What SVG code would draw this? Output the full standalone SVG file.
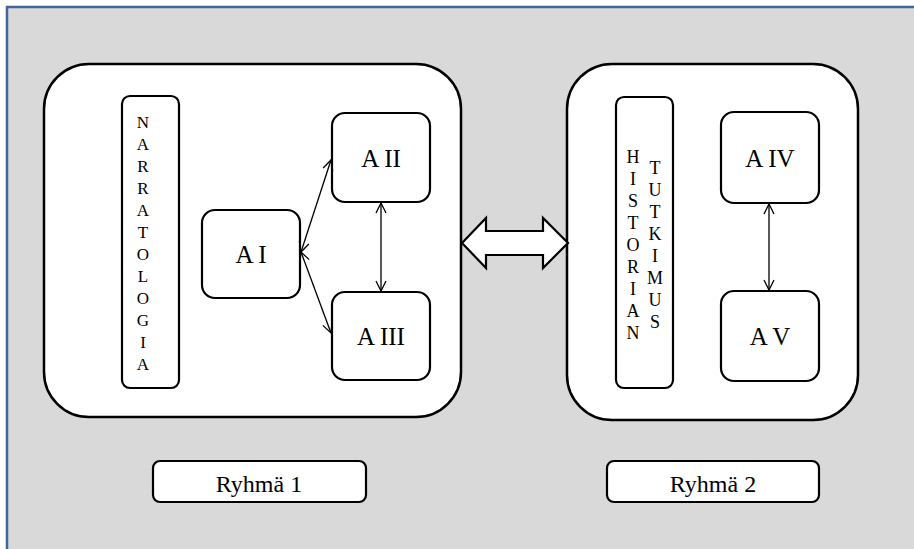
<svg xmlns="http://www.w3.org/2000/svg" width="914" height="549" viewBox="0 0 914 549">
<defs>
<style>
.frame{fill:#d9d9d9;stroke:#3f6797;stroke-width:2.5}
.big{fill:#fff;stroke:#000;stroke-width:2.5}
.box{fill:#fff;stroke:#000;stroke-width:2.2}
.t{font-family:"Liberation Serif","Times New Roman",serif;fill:#000;text-anchor:middle}
.lbl{font-size:24px}
.albl{font-size:25px}
.v{font-size:17px}
.v2{font-size:18px}
.con{stroke:#000;stroke-width:1.3;fill:none;marker-start:url(#ah);marker-end:url(#ah)}
</style>
<marker id="ah" viewBox="0 0 12 12" refX="11" refY="6" markerWidth="12" markerHeight="12" markerUnits="userSpaceOnUse" orient="auto-start-reverse">
<path d="M1,1 L11,6 L1,11" fill="none" stroke="#000" stroke-width="1.3"/>
</marker>
</defs>
<rect class="frame" x="7" y="7" width="930" height="560"/>

<g id="ryhma1-group">
<rect class="big" x="44" y="64" width="417" height="353" rx="45" ry="45"/>
</g>
<g id="ryhma2-group">
<rect class="big" x="567" y="64" width="291" height="356" rx="45" ry="45"/>
</g>

<g id="narratologia">
<rect class="box" x="122" y="96" width="57" height="292" rx="8"/>
<text class="t v">
<tspan x="143" y="128">N</tspan><tspan x="143" y="150">A</tspan><tspan x="143" y="172">R</tspan><tspan x="143" y="194">R</tspan><tspan x="143" y="216">A</tspan><tspan x="143" y="238">T</tspan><tspan x="143" y="260">O</tspan><tspan x="143" y="282">L</tspan><tspan x="143" y="304">O</tspan><tspan x="143" y="326">G</tspan><tspan x="143" y="348">I</tspan><tspan x="143" y="370">A</tspan>
</text>
</g>

<g id="historian-tutkimus">
<rect class="box" x="616" y="97" width="57" height="291" rx="8"/>
<text class="t v2">
<tspan x="633" y="163">H</tspan><tspan x="633" y="185">I</tspan><tspan x="633" y="207">S</tspan><tspan x="633" y="229">T</tspan><tspan x="633" y="251">O</tspan><tspan x="633" y="273">R</tspan><tspan x="633" y="295">I</tspan><tspan x="633" y="317">A</tspan><tspan x="633" y="339">N</tspan>
</text>
<text class="t v2">
<tspan x="655" y="174">T</tspan><tspan x="655" y="196">U</tspan><tspan x="655" y="218">T</tspan><tspan x="655" y="240">K</tspan><tspan x="655" y="262">I</tspan><tspan x="655" y="284">M</tspan><tspan x="655" y="306">U</tspan><tspan x="655" y="328">S</tspan>
</text>
</g>

<g id="AI">
<rect class="box" x="202" y="210" width="98" height="88" rx="13"/>
<text class="t albl" x="251" y="263">A I</text>
</g>
<g id="AII">
<rect class="box" x="332" y="113" width="98" height="89" rx="13"/>
<text class="t albl" x="381" y="167">A II</text>
</g>
<g id="AIII">
<rect class="box" x="332" y="292" width="98" height="88" rx="13"/>
<text class="t albl" x="381" y="345">A III</text>
</g>
<g id="AIV">
<rect class="box" x="721" y="112" width="98" height="91" rx="13"/>
<text class="t albl" x="770" y="167">A IV</text>
</g>
<g id="AV">
<rect class="box" x="721" y="291" width="98" height="90" rx="13"/>
<text class="t albl" x="770" y="345">A V</text>
</g>

<g id="ryhma1">
<rect class="box" x="153" y="461" width="213" height="41" rx="7"/>
<text class="t lbl" x="259" y="492">Ryhmä 1</text>
</g>
<g id="ryhma2">
<rect class="box" x="607" y="461" width="212" height="41" rx="7"/>
<text class="t lbl" x="713" y="492">Ryhmä 2</text>
</g>

<g id="connectors">
<line class="con" x1="301" y1="252" x2="331" y2="160"/>
<line class="con" x1="301" y1="252" x2="331" y2="333"/>
<line class="con" x1="381" y1="203" x2="381" y2="291"/>
<line class="con" x1="769" y1="204" x2="769" y2="290"/>
<polygon points="462,243 486,218 486,231 543,231 543,218 568,243 543,268 543,255 486,255 486,268" fill="#fff" stroke="#000" stroke-width="2.2" stroke-linejoin="miter"/>
</g>
</svg>
